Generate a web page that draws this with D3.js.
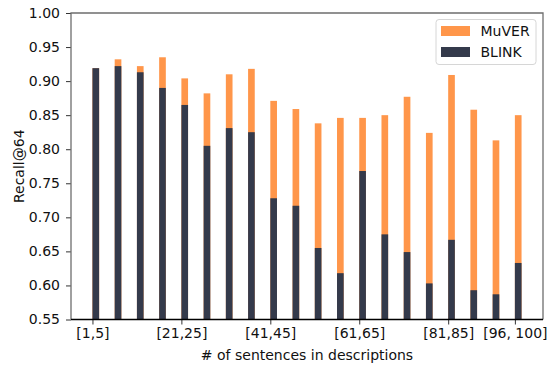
<!DOCTYPE html>
<html>
<head>
<meta charset="utf-8">
<script src="https://cdn.jsdelivr.net/npm/d3@7/dist/d3.min.js"></script>
<style>
  html, body { margin: 0; padding: 0; background: #fff; }
  svg { display: block; }
  text { font-family: "DejaVu Sans", sans-serif; fill: #111; }
</style>
</head>
<body>
<svg id="chart" width="548" height="365"></svg>
<script>
// Sentence-count buckets along the x axis
const categories = [
  "[1,5]", "[6,10]", "[11,15]", "[16,20]", "[21,25]", "[26,30]", "[31,35]",
  "[36,40]", "[41,45]", "[46,50]", "[51,55]", "[56,60]", "[61,65]", "[66,70]",
  "[71,75]", "[76,80]", "[81,85]", "[86,90]", "[91,95]", "[96, 100]"
];

// Recall@64 per bucket
const muverValues = [
  0.919, 0.932, 0.922, 0.935, 0.904, 0.882, 0.910, 0.918, 0.871, 0.859,
  0.838, 0.846, 0.846, 0.850, 0.877, 0.824, 0.909, 0.858, 0.813, 0.850
];
const blinkValues = [
  0.919, 0.922, 0.913, 0.890, 0.865, 0.805, 0.831, 0.825, 0.728, 0.717,
  0.655, 0.618, 0.768, 0.675, 0.649, 0.603, 0.667, 0.593, 0.587, 0.633
];

// Which buckets get a labelled tick
const tickIndices = [0, 4, 8, 12, 16, 19];
const yTicks = [0.55, 0.60, 0.65, 0.70, 0.75, 0.80, 0.85, 0.90, 0.95, 1.00];

const seriesNames = ["MuVER", "BLINK"];
const colors = { MuVER: "#ff964a", BLINK: "#343a4b" };

const svg = d3.select("#chart");
const plot = { left: 71, right: 543, top: 13, bottom: 319.5 };
const fontSize = 14;

const barWidth = 0.3;
const x = d3.scaleLinear()
  .domain([-0.965, categories.length - 1 + barWidth + 0.965])
  .range([plot.left, plot.right]);
const y = d3.scaleLinear()
  .domain([0.55, 1.0])
  .range([plot.bottom, plot.top]);

// Bars: MuVER drawn first, BLINK drawn over it
const bars = svg.append("g");
[["MuVER", muverValues], ["BLINK", blinkValues]].forEach(([name, vals]) => {
  bars.append("g").selectAll("rect")
    .data(vals)
    .join("rect")
    .attr("x", (d, i) => x(i))
    .attr("width", x(barWidth) - x(0))
    .attr("y", d => y(d))
    .attr("height", d => y(0.55) - y(d))
    .attr("fill", colors[name]);
});

// Axes
const xAxis = svg.append("g")
  .attr("transform", `translate(0,${plot.bottom})`)
  .call(d3.axisBottom(x)
    .tickValues(tickIndices)
    .tickFormat(i => categories[i])
    .tickSize(5)
    .tickPadding(4));
xAxis.select(".domain").remove();
xAxis.selectAll("text")
  .style("font-size", fontSize + "px")
  .style("font-family", "DejaVu Sans");
xAxis.selectAll("line").attr("stroke", "#333").attr("stroke-width", 1);

const yAxis = svg.append("g")
  .attr("transform", `translate(${plot.left},0)`)
  .call(d3.axisLeft(y)
    .tickValues(yTicks)
    .tickFormat(d3.format(".2f"))
    .tickSize(5)
    .tickPadding(6));
yAxis.select(".domain").remove();
yAxis.selectAll("text")
  .style("font-size", fontSize + "px")
  .style("font-family", "DejaVu Sans");
yAxis.selectAll("line").attr("stroke", "#333").attr("stroke-width", 1);

// Frame: grey on three sides, black baseline
const frame = svg.append("g").attr("fill", "none").attr("stroke-width", 1.3);
frame.append("path")
  .attr("d", `M${plot.left},${plot.bottom}V${plot.top}H${plot.right}V${plot.bottom}`)
  .attr("stroke", "#6e6e6e");
frame.append("line")
  .attr("x1", plot.left).attr("x2", plot.right)
  .attr("y1", plot.bottom).attr("y2", plot.bottom)
  .attr("stroke", "#000");

// Axis titles
svg.append("text")
  .attr("x", (plot.left + plot.right) / 2)
  .attr("y", 360)
  .attr("text-anchor", "middle")
  .style("font-size", fontSize + "px")
  .text("# of sentences in descriptions");
svg.append("text")
  .attr("transform", `translate(24,${(plot.top + plot.bottom) / 2}) rotate(-90)`)
  .attr("text-anchor", "middle")
  .style("font-size", fontSize + "px")
  .text("Recall@64");

// Legend
const legend = svg.append("g");
legend.append("rect")
  .attr("x", 436).attr("y", 19.5)
  .attr("width", 100).attr("height", 45)
  .attr("rx", 3)
  .attr("fill", "#fff").attr("fill-opacity", 0.8)
  .attr("stroke", "#d6d6d6").attr("stroke-width", 1);
seriesNames.forEach((name, i) => {
  const yy = 26 + i * 21;
  legend.append("rect")
    .attr("x", 441).attr("y", yy)
    .attr("width", 29).attr("height", 10)
    .attr("fill", colors[name]);
  legend.append("text")
    .attr("x", 480.5).attr("y", yy + 10)
    .style("font-size", fontSize + "px")
    .text(name);
});
</script>
</body>
</html>
